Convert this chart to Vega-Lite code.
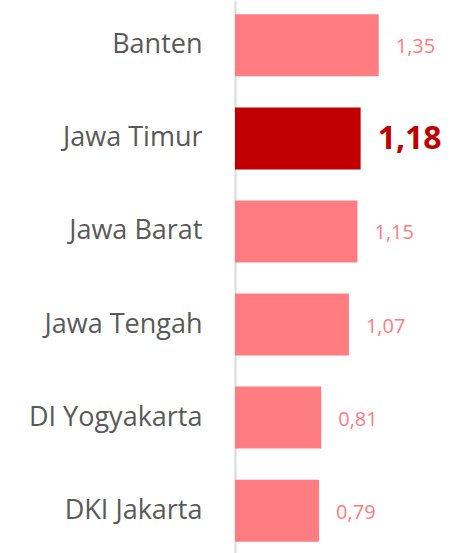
{
  "$schema": "https://vega.github.io/schema/vega-lite/v6.json",
  "autosize": {"type": "none"},
  "padding": {"left": 235, "top": 0, "right": 0, "bottom": 0},
  "width": 222,
  "height": 556,
  "background": "white",
  "config": {
    "view": {"stroke": null},
    "locale": {"number": {"decimal": ",", "thousands": ".", "grouping": [3], "currency": ["", ""]}}
  },
  "data": {
    "values": [
      {"provinsi": "Banten", "nilai": 1.35, "sorot": "tidak"},
      {"provinsi": "Jawa Timur", "nilai": 1.18, "sorot": "ya"},
      {"provinsi": "Jawa Barat", "nilai": 1.15, "sorot": "tidak"},
      {"provinsi": "Jawa Tengah", "nilai": 1.07, "sorot": "tidak"},
      {"provinsi": "DI Yogyakarta", "nilai": 0.81, "sorot": "tidak"},
      {"provinsi": "DKI Jakarta", "nilai": 0.79, "sorot": "tidak"}
    ]
  },
  "encoding": {
    "y": {
      "field": "provinsi",
      "type": "nominal",
      "sort": null,
      "scale": {"paddingInner": 0.334, "paddingOuter": 0.154},
      "axis": {
        "title": null,
        "ticks": false,
        "labelFont": "Open Sans",
        "labelFontSize": 27,
        "labelColor": "#595959",
        "labelPadding": 33,
        "domainColor": "#D9D9D9",
        "domainWidth": 2,
        "zindex": 0
      }
    },
    "x": {
      "field": "nilai",
      "type": "quantitative",
      "scale": {"domain": [0, 2.085], "nice": false},
      "axis": null
    }
  },
  "layer": [
    {
      "mark": {"type": "bar"},
      "encoding": {
        "color": {
          "field": "sorot",
          "type": "nominal",
          "scale": {"domain": ["tidak", "ya"], "range": ["#FF7C80", "#C00000"]},
          "legend": null
        }
      }
    },
    {
      "transform": [{"filter": "datum.sorot == 'tidak'"}],
      "mark": {"type": "text", "align": "left", "baseline": "middle", "dx": 17, "dy": 2, "font": "Open Sans", "fontSize": 20, "color": "#FF7C80"},
      "encoding": {"text": {"field": "nilai", "type": "quantitative", "format": ".2f"}}
    },
    {
      "transform": [{"filter": "datum.sorot == 'ya'"}],
      "mark": {"type": "text", "align": "left", "baseline": "middle", "dx": 17, "dy": 1, "font": "Open Sans", "fontSize": 32, "fontWeight": "bold", "color": "#C00000"},
      "encoding": {"text": {"field": "nilai", "type": "quantitative", "format": ".2f"}}
    }
  ]
}
